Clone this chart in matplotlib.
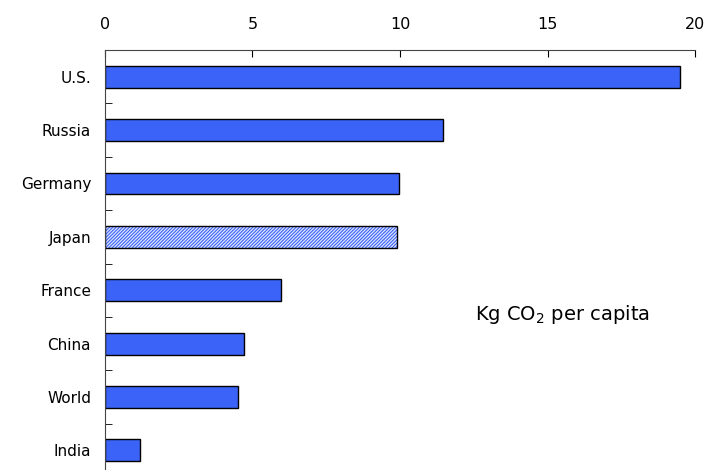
import numpy as np
import matplotlib
matplotlib.use("Agg")
import matplotlib.pyplot as plt

plt.rcParams['font.family'] = ['DejaVu Sans']
plt.rcParams['hatch.linewidth'] = 0.8

countries = ['U.S.', 'Russia', 'Germany', 'Japan', 'France', 'China', 'World', 'India']
co2 = [19.5, 11.45, 9.95, 9.9, 5.95, 4.7, 4.5, 1.2]
highlight = 'Japan'

blue = '#3b63f7'

fig = plt.figure(figsize=(7.21, 4.70), dpi=100)
ax = fig.add_axes([0.1456, -0.015, 0.8184, 0.9086])

y = np.arange(len(countries))
for i, (c, v) in enumerate(zip(countries, co2)):
    if c == highlight:
        ax.barh(i, v, height=0.41, color='#dfe6ff', edgecolor=blue, hatch='//////////', linewidth=0)
        ax.barh(i, v, height=0.41, facecolor='none', edgecolor='black', linewidth=1.0)
    else:
        ax.barh(i, v, height=0.41, color=blue, edgecolor='black', linewidth=1.0)

ax.set_xlim(0, 20)
ax.set_ylim(len(countries) - 0.5, -0.5)
ax.xaxis.tick_top()
ax.set_xticks([0, 5, 10, 15, 20])
ax.tick_params(axis='x', direction='in', length=5, pad=13, labelsize=11.5)

ax.set_yticks(y)
ax.set_yticklabels(countries)
ax.tick_params(axis='y', which='major', length=0, pad=10, labelsize=11)
ax.set_yticks(np.arange(len(countries) + 1) - 0.5, minor=True)
ax.tick_params(axis='y', which='minor', direction='in', length=5)

ax.spines['right'].set_visible(False)
ax.spines['bottom'].set_visible(False)
for s in ['top', 'left']:
    ax.spines[s].set_color('#444444')

ax.text(0.627, 0.38, 'Kg CO$_\\mathregular{2}$ per capita', transform=ax.transAxes,
        fontsize=14, ha='left', va='center')

fig.savefig('out.png', dpi=100)
